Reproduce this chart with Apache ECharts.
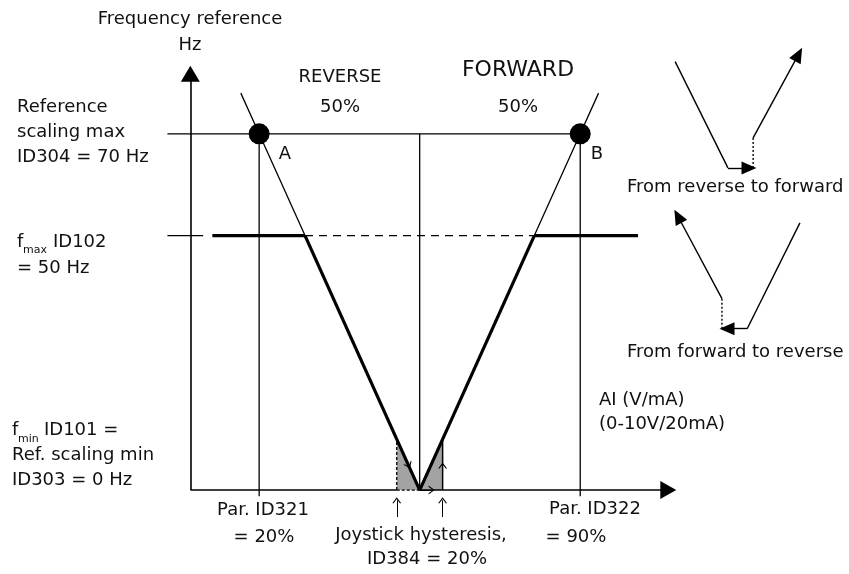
<!DOCTYPE html>
<html>
<head>
<meta charset="utf-8">
<script src="https://cdn.jsdelivr.net/npm/echarts@6/dist/echarts.min.js"></script>
<style>
  html, body { margin: 0; padding: 0; background: #fff; }
  #chart { width: 849px; height: 574px; }
</style>
</head>
<body>
<div id="chart"></div>
<script>
// ---- Scaling parameters: AI input in % of range, frequency in Hz ----
const parID321 = 20;          // AI % at reference scaling max (reverse end)
const parID322 = 90;          // AI % at reference scaling max (forward end)
const zeroPoint = 55;         // AI % where the reference passes 0 Hz
const refScalingMax = 70;     // ID304, Hz
const fMax = 50;              // ID102, Hz
const fMin = 0;               // ID101 / ID303, Hz
const hystBand = [50, 60];    // joystick hysteresis band, AI %
const hystCornerHz = 10;      // reference at the edges of the hysteresis band

// Reference curve: reverse branch (left) and forward branch (right)
const reverseThin  = [[16, 78], [20, 70], [30, 50]];
const reverseThick = [[30, 50], [55, 0]];
const forwardThick = [[55, 0], [80, 50]];
const forwardThin  = [[80, 50], [90, 70], [94, 78]];

// f max limit line, split into its drawn pieces (AI %)
const fMaxLead   = [0, 7.8];
const fMaxLeft   = [9.8, 30];
const fMaxDashed = [30, 80];
const fMaxRight  = [80, 102.6];

// Axes (AI % / Hz)
const axisOrigin = [5, 0];
const yAxisEnd = 81.8;
const xAxisEnd = 109.2;
const tickDrop = -1.2;

// Small diagrams: change of direction through the hysteresis
const revToFwd = {
  down:   [[110.7, 84.2], [122.2, 63.3]],
  across: [[122.2, 63.3], [126.8, 63.3]],
  jump:   [[127.7, 63.3], [127.7, 69.2]],
  up:     [[127.7, 69.2], [137.6, 85.6]]
};
const fwdToRev = {
  down:   [[137.9, 52.5], [126.4, 31.7]],
  across: [[126.4, 31.7], [122.0, 31.7]],
  jump:   [[120.9, 31.7], [120.9, 37.6]],
  up:     [[120.9, 37.6], [111.3, 53.8]]
};

// ---- drawing ----
const BLACK = '#000';
const GRAY = '#a3a3a3';
const FONT = 'DejaVu Sans';
const CHEVRON = 'path://M0,10L5,0L10,10L8.5,10L5,3L1.5,10Z';

const series = [];

function seg(points, width, type) {
  series.push({
    type: 'line', data: points, symbol: 'none', silent: true, z: 2,
    lineStyle: { color: BLACK, width: width, type: type || 'solid' }
  });
}

// a segment with a head at its end; the marker line draws both
function arrow(from, to, width, head, size, type) {
  series.push({
    type: 'line', data: [from, to], symbol: 'none', silent: true, z: 3,
    lineStyle: { opacity: 0, width: 0 },
    markLine: {
      silent: true, animation: false,
      symbol: ['none', head],
      label: { show: false },
      emphasis: { disabled: true },
      lineStyle: { color: BLACK, width: width, type: type || 'solid', opacity: 1 },
      data: [[{ coord: from, symbol: 'none' }, { coord: to, symbol: head, symbolSize: size }]]
    }
  });
}

// hysteresis shading
series.push({
  type: 'line', data: [[hystBand[0], hystCornerHz], [zeroPoint, fMin]], symbol: 'none', silent: true, z: 1,
  lineStyle: { width: 0, opacity: 0 }, areaStyle: { color: GRAY, opacity: 1, origin: 0 }
});
series.push({
  type: 'line', data: [[zeroPoint, fMin], [hystBand[1], hystCornerHz]], symbol: 'none', silent: true, z: 1,
  lineStyle: { width: 0, opacity: 0 }, areaStyle: { color: GRAY, opacity: 1, origin: 0 }
});

// reference scaling max and the vertical guides
const THIN = 1.3, THICK = 3.2, AXIS = 1.6;
seg([[0, refScalingMax], [parID322, refScalingMax]], THIN);
seg([[parID321, refScalingMax], [parID321, tickDrop]], THIN);
seg([[parID322, refScalingMax], [parID322, tickDrop]], THIN);
seg([[zeroPoint, refScalingMax], [zeroPoint, fMin]], THIN);

// reference curve
seg(reverseThin, THIN);
seg(forwardThin, THIN);
seg(reverseThick, THICK);
seg(forwardThick, THICK);

// f max line
seg([[fMaxLead[0], fMax], [fMaxLead[1], fMax]], THIN);
seg([[fMaxLeft[0], fMax], [fMaxLeft[1], fMax]], THICK);
seg([[fMaxDashed[0], fMax], [fMaxDashed[1], fMax]], THIN, [8, 6]);
seg([[fMaxRight[0], fMax], [fMaxRight[1], fMax]], THICK);

// hysteresis edges
seg([[hystBand[0], fMin], [hystBand[0], hystCornerHz]], 1.3, [3, 2]);
seg([[hystBand[1], fMin], [hystBand[1], hystCornerHz]], 1.5);

// axes with arrow heads
arrow(axisOrigin, [axisOrigin[0], yAxisEnd], AXIS, 'triangle', [19, 16]);
seg([axisOrigin, [hystBand[0], 0]], AXIS);
seg([[hystBand[0], 0], [zeroPoint, 0]], 1.3, [3, 2]);
arrow([zeroPoint, 0], [xAxisEnd, 0], AXIS, 'triangle', [18, 16]);

// direction chevrons inside the hysteresis band
arrow([51.2, 7.6], [52.6, 4.8], 1, CHEVRON, [9, 6]);
arrow([zeroPoint, 0], [57.6, 0], 1, CHEVRON, [9, 6]);
arrow([hystBand[1], 1.5], [hystBand[1], 4.8], 1, CHEVRON, [9, 6]);

// markers under the axis for the hysteresis limits
arrow([hystBand[0], -5.3], [hystBand[0], -2.0], 1, CHEVRON, [9, 6]);
arrow([hystBand[1], -5.3], [hystBand[1], -2.0], 1, CHEVRON, [9, 6]);

// small direction diagrams
[revToFwd, fwdToRev].forEach(function (d) {
  seg(d.down, 1.4);
  arrow(d.across[0], d.across[1], 1.4, 'triangle', [13, 15]);
  seg(d.jump, 1.4, [2, 2]);
  arrow(d.up[0], d.up[1], 1.4, 'triangle', [13, 15]);
});

// points A and B
series.push({
  type: 'scatter', silent: true, z: 4, symbolSize: 21,
  itemStyle: { color: BLACK, opacity: 1 },
  data: [[parID321, refScalingMax], [parID322, refScalingMax]]
});

// ---- text ----
function txt(text, x, y, align, size) {
  return {
    type: 'text', x: x, y: y, silent: true,
    style: {
      text: text, fill: '#111', font: (size || 18) + 'px "' + FONT + '"',
      align: align || 'left', verticalAlign: 'middle',
      textAlign: align || 'left', textVerticalAlign: 'middle'
    }
  };
}

const texts = [
  txt('Frequency reference', 190, 19, 'center'),
  txt('Hz', 190, 45, 'center'),
  txt('REVERSE', 340, 77, 'center', 18),
  txt('50%', 340, 107, 'center'),
  txt('FORWARD', 518, 70, 'center', 22),
  txt('50%', 518, 107, 'center'),
  txt('Reference', 17, 107),
  txt('scaling max', 17, 132),
  txt('ID304 = 70 Hz', 17, 157),
  txt('A', 285, 154, 'center'),
  txt('B', 597, 154, 'center'),
  txt('From reverse to forward', 627, 187),
  txt('From forward to reverse', 627, 352),
  txt('f', 17, 242),
  txt('max', 23, 250, 'left', 11),
  txt('ID102', 53, 242),
  txt('= 50 Hz', 17, 268),
  txt('AI (V/mA)', 599, 400),
  txt('(0-10V/20mA)', 599, 424),
  txt('f', 12, 430),
  txt('min', 18, 439, 'left', 11),
  txt('ID101 =', 44, 430),
  txt('Ref. scaling min', 12, 455),
  txt('ID303 = 0 Hz', 12, 480),
  txt('Par. ID321', 263, 510, 'center'),
  txt('= 20%', 264, 537, 'center'),
  txt('Joystick hysteresis,', 421, 535, 'center'),
  txt('ID384 = 20%', 427, 559, 'center'),
  txt('Par. ID322', 595, 509, 'center'),
  txt('= 90%', 576, 537, 'center')
];

const chart = echarts.init(document.getElementById('chart'), null, { renderer: 'canvas' });
chart.setOption({
  animation: false,
  backgroundColor: '#fff',
  grid: { left: 0, right: 0, top: 0, bottom: 0, containLabel: false },
  xAxis: { type: 'value', min: -36.5, max: 148.6, show: false },
  yAxis: { type: 'value', min: -16.5, max: 96.3, show: false },
  series: series,
  graphic: texts
});
</script>
</body>
</html>
